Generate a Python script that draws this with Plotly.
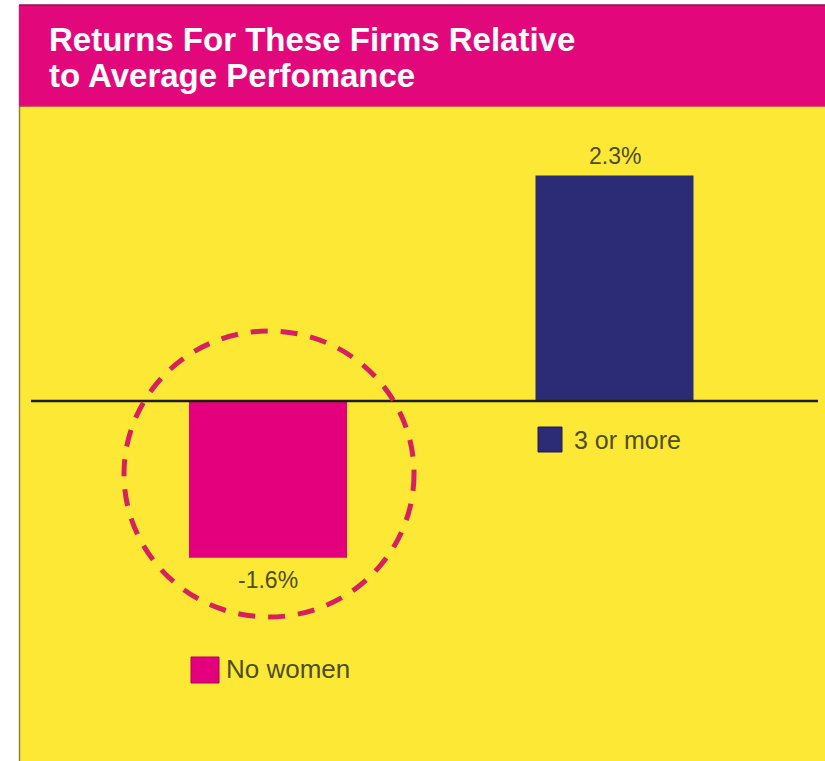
import plotly.graph_objects as go

# ---- data ----
categories = ["No women", "3 or more"]
values = [-1.6, 2.3]
value_labels = ["-1.6%", "2.3%"]
bar_colors = ["#E4007C", "#2B2B76"]
title_lines = ["Returns For These Firms Relative", "to Average Perfomance"]

W, H = 825, 761
def px(x):
    return x / W
def py(y):
    return 1 - y / H

TEXT = "#4f4d1c"
FONT = "Liberation Sans, Arial, sans-serif"

fig = go.Figure()
fig.add_trace(go.Bar(
    x=[0, 1], y=values,
    marker=dict(color=bar_colors, line=dict(width=0)),
    width=0.456,
    showlegend=False, hoverinfo="skip",
))

# axis scaling: zero at pixel 401, ~98 px per percent; category spacing 346.5 px
k = 98.0
zero_px = 401
y0 = -(H - zero_px) / k
y1 = zero_px / k
kx = 346.5
x0 = -268 / kx
x1 = x0 + W / kx

shapes = [
    dict(type="rect", xref="paper", yref="paper", x0=px(19), x1=1, y0=0, y1=py(5),
         fillcolor="#FDE935", line=dict(width=0), layer="below"),
    dict(type="line", xref="paper", yref="paper", x0=px(19.5), x1=px(19.5), y0=0, y1=py(5),
         line=dict(color="#8a8440", width=1.5), layer="below"),
    dict(type="rect", xref="paper", yref="paper", x0=px(19), x1=1, y0=py(106), y1=py(5),
         fillcolor="#E2077B", line=dict(width=0), layer="below"),
    dict(type="line", xref="paper", yref="paper", x0=px(19), x1=1, y0=py(5), y1=py(5),
         line=dict(color="#9a1050", width=1.5), layer="below"),
    dict(type="line", xref="paper", yref="paper", x0=px(19), x1=1, y0=py(106), y1=py(106),
         line=dict(color="#b8305a", width=1.5), layer="below"),
    dict(type="line", xref="paper", yref="y", x0=px(31), x1=px(818), y0=0, y1=0,
         line=dict(color="#1e1d10", width=2.5), layer="above"),
    dict(type="circle", xref="paper", yref="paper", x0=px(124), x1=px(414), y0=py(617), y1=py(331),
         line=dict(color="#D6215E", width=5, dash="17px,13px"), layer="above"),
    dict(type="rect", xref="paper", yref="paper", x0=px(538), x1=px(562), y0=py(452), y1=py(427),
         fillcolor=bar_colors[1], line=dict(color="#1c1c50", width=1)),
    dict(type="rect", xref="paper", yref="paper", x0=px(191), x1=px(219), y0=py(683), y1=py(657),
         fillcolor=bar_colors[0], line=dict(color="#b00060", width=1)),
]

annotations = [
    dict(xref="paper", yref="paper", x=px(47), y=py(39), xanchor="left", yanchor="middle",
         text="<b>" + title_lines[0] + "</b>", showarrow=False, align="left",
         font=dict(family=FONT, size=33, color="#FFFFFF")),
    dict(xref="paper", yref="paper", x=px(47), y=py(76), xanchor="left", yanchor="middle",
         text="<b>" + title_lines[1] + "</b>", showarrow=False, align="left",
         font=dict(family=FONT, size=33, color="#FFFFFF")),
    dict(xref="paper", yref="paper", x=px(572), y=py(440), xanchor="left", yanchor="middle",
         text=categories[1], showarrow=False,
         font=dict(family=FONT, size=25, color=TEXT)),
    dict(xref="paper", yref="paper", x=px(224), y=py(669), xanchor="left", yanchor="middle",
         text=categories[0], showarrow=False,
         font=dict(family=FONT, size=26, color=TEXT)),
]
# value labels attached to bar ends
for i, (v, lab) in enumerate(zip(values, value_labels)):
    annotations.append(dict(
        xref="x", yref="y", x=i, y=v, xanchor="center", yanchor="middle",
        yshift=20 if v > 0 else -22, text=lab, showarrow=False,
        font=dict(family=FONT, size=23, color=TEXT)))

fig.update_layout(
    width=W, height=H,
    margin=dict(l=0, r=0, t=0, b=0),
    paper_bgcolor="#FFFFFF", plot_bgcolor="rgba(0,0,0,0)",
    xaxis=dict(range=[x0, x1], visible=False, fixedrange=True),
    yaxis=dict(range=[y0, y1], visible=False, fixedrange=True, zeroline=False),
    shapes=shapes, annotations=annotations,
    showlegend=False,
)

fig.write_html("out.html")
